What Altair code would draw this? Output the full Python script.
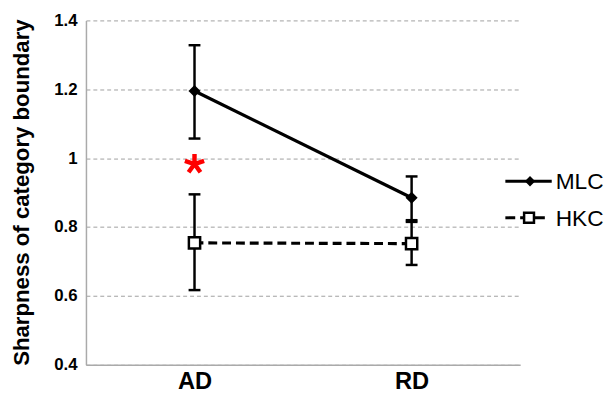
import altair as alt
import pandas as pd

# ---- data ----
conditions = ["AD", "RD"]
mlc_mean = [1.195, 0.885]
mlc_low = [1.057, 0.820]
mlc_high = [1.328, 0.947]
hkc_mean = [0.754, 0.752]
hkc_low = [0.617, 0.690]
hkc_high = [0.895, 0.815]
star_condition = ["AD"]
star_value = [0.983]
y_ticks = [0.4, 0.6, 0.8, 1.0, 1.2, 1.4]
legend_labels = ["MLC", "HKC"]
y_title = "Sharpness of category boundary"

FONT = "Liberation Sans"

mlc = pd.DataFrame({"cond": conditions, "mean": mlc_mean, "low": mlc_low, "high": mlc_high})
hkc = pd.DataFrame({"cond": conditions, "mean": hkc_mean, "low": hkc_low, "high": hkc_high})
star = pd.DataFrame({"cond": star_condition, "value": star_value})
legend_df = pd.DataFrame({"label": legend_labels})

xscale = alt.Scale(type="point", domain=conditions, padding=0.5)
yscale = alt.Scale(domain=[0.4, 1.4], nice=False, zero=False)

xaxis = alt.Axis(
    title=None, labelFont=FONT, labelFontSize=24, labelFontWeight="bold",
    labelColor="black", labelPadding=5, ticks=False, domainColor="#aaaaaa",
    domainWidth=1.5, grid=False, labelAngle=0,
)
yaxis = alt.Axis(
    title=y_title, values=y_ticks, format=".1~f", labelFont=FONT, labelFontSize=17,
    labelFontWeight="bold", labelColor="black", labelPadding=9, ticks=False,
    domainColor="#aaaaaa", domainWidth=1.5, grid=True, gridColor="#a0a0a0",
    gridDash=[4, 3], gridWidth=1, titleFont=FONT, titleFontSize=22.5,
    titleFontWeight="bold", titleColor="black", titleX=-53, titleY=174,
)


def X():
    return alt.X("cond:N", scale=xscale, axis=xaxis)


def Y(field):
    return alt.Y(field, scale=yscale, axis=yaxis, title=y_title)


layers = []
for df in (mlc, hkc):
    base = alt.Chart(df)
    layers.append(base.mark_rule(color="black", strokeWidth=2.5).encode(
        x=X(), y=Y("low:Q"), y2="high:Q"))
    layers.append(base.mark_tick(color="black", size=12, thickness=2.5, opacity=1).encode(
        x=X(), y=Y("low:Q")))
    layers.append(base.mark_tick(color="black", size=12, thickness=2.5, opacity=1).encode(
        x=X(), y=Y("high:Q")))

layers.append(alt.Chart(mlc).mark_line(color="black", strokeWidth=3.2).encode(
    x=X(), y=Y("mean:Q")))
layers.append(alt.Chart(hkc).mark_line(color="black", strokeWidth=3.2, strokeDash=[9, 5]).encode(
    x=X(), y=Y("mean:Q")))
layers.append(alt.Chart(mlc).mark_point(shape="diamond", filled=True, color="black",
                                        size=150, opacity=1).encode(x=X(), y=Y("mean:Q")))
layers.append(alt.Chart(hkc).mark_point(shape="square", fill="white", fillOpacity=1,
                                        stroke="black", strokeWidth=2.5, size=130,
                                        opacity=1).encode(x=X(), y=Y("mean:Q")))

asterisk = ("M0,0L0,-1M0,0L0.951,-0.309M0,0L-0.951,-0.309"
            "M0,0L0.588,0.809M0,0L-0.588,0.809")
layers.append(alt.Chart(star).mark_point(shape=asterisk, filled=False, color="#ff0000",
                                         strokeWidth=4.5, size=420, opacity=1,
                                         strokeCap="butt").encode(x=X(), y=Y("value:Q")))

# ---- legend (drawn manually to get line + marker symbols) ----
leg_y = {"MLC": 163, "HKC": 200}
for lab in legend_labels:
    lc = alt.Chart(legend_df).transform_filter(alt.datum.label == lab)
    if lab == "MLC":
        layers.append(lc.mark_rule(color="black", strokeWidth=3).encode(
            x=alt.value(425), x2=alt.value(472), y=alt.value(leg_y[lab])))
        layers.append(lc.mark_point(shape="diamond", filled=True, color="black", size=110,
                                    opacity=1).encode(x=alt.value(450), y=alt.value(leg_y[lab])))
    else:
        layers.append(lc.mark_rule(color="black", strokeWidth=3, strokeDash=[10, 5]).encode(
            x=alt.value(425), x2=alt.value(468), y=alt.value(leg_y[lab])))
        layers.append(lc.mark_point(shape="square", fill="white", fillOpacity=1, stroke="black",
                                    strokeWidth=2.5, size=100, opacity=1).encode(
            x=alt.value(449), y=alt.value(leg_y[lab])))
    layers.append(lc.mark_text(align="left", baseline="middle", font=FONT, fontSize=23,
                               color="black").encode(
        x=alt.value(476), y=alt.value(leg_y[lab] + 1), text="label:N"))

chart = alt.layer(*layers).properties(
    width=440, height=349,
    autosize=alt.AutoSizeParams(type="none"),
    padding={"left": 79, "top": 10, "right": 88, "bottom": 29},
).configure_view(stroke=None)

chart.save("out.html", embed_options={"renderer": "svg", "actions": False})
